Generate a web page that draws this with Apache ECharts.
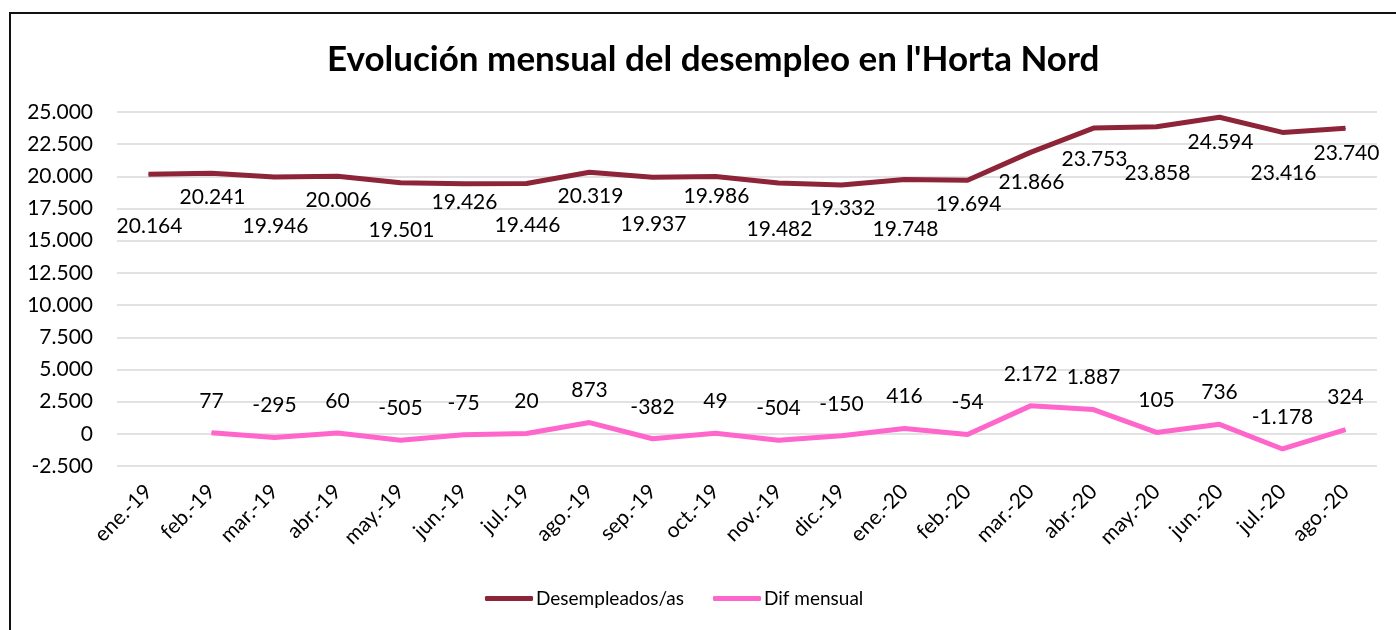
<!DOCTYPE html>
<html>
<head>
<meta charset="utf-8">
<script src="https://cdn.jsdelivr.net/npm/echarts@6/dist/echarts.min.js"></script>
<style>
  html, body { margin: 0; padding: 0; background: #fff; }
  #chart { width: 1396px; height: 630px; }
  #frame { position: absolute; left: 9px; top: 12px; width: 1400px; height: 640px;
           border-left: 2px solid #111; border-top: 2px solid #111; pointer-events: none; }
</style>
</head>
<body>
<div id="chart"></div>
<div id="frame"></div>
<script>
const categories = ['ene.-19', 'feb.-19', 'mar.-19', 'abr.-19', 'may.-19', 'jun.-19', 'jul.-19',
  'ago.-19', 'sep.-19', 'oct.-19', 'nov.-19', 'dic.-19', 'ene.-20', 'feb.-20', 'mar.-20',
  'abr.-20', 'may.-20', 'jun.-20', 'jul.-20', 'ago.-20'];
const desempleados = [20164, 20241, 19946, 20006, 19501, 19426, 19446, 20319, 19937, 19986,
  19482, 19332, 19748, 19694, 21866, 23753, 23858, 24594, 23416, 23740];
const difMensual = [null, 77, -295, 60, -505, -75, 20, 873, -382, 49,
  -504, -150, 416, -54, 2172, 1887, 105, 736, -1178, 324];
const yMin = -2500, yMax = 25000, yStep = 2500;

// vertical shift of each "Desempleados/as" label below its point (px)
const desLabelDy = [52, 24, 49, 24, 47, 18, 42, 24, 47, 20, 46, 23, 50, 24, 30, 31, 47, 25, 41, 25];

const FONT = 'Lato';
const fmt = v => {
  const s = Math.abs(Math.round(v)).toString().replace(/\B(?=(\d{3})+(?!\d))/g, '.');
  return (v < 0 ? '-' : '') + s;
};

let myChart = echarts.init(document.getElementById('chart'));
myChart.setOption({
  animation: false,
  title: {
    text: "Evolución mensual del desempleo en l'Horta Nord",
    left: 322,
    top: 37,
    textStyle: { fontFamily: FONT, fontSize: 35, fontWeight: 'bold', color: '#000' }
  },
  legend: {
    bottom: 17,
    left: 480,
    icon: 'roundRect',
    itemWidth: 48,
    itemHeight: 5,
    itemGap: 29,
    textStyle: { fontFamily: FONT, fontSize: 19, color: '#000', padding: [0, 0, 0, -2] },
    data: ['Desempleados/as', 'Dif mensual']
  },
  grid: { left: 117, right: 19, top: 112, bottom: 164, containLabel: false },
  xAxis: {
    type: 'category',
    data: categories,
    boundaryGap: true,
    axisLine: { show: false },
    axisTick: { show: false },
    axisLabel: { rotate: 45, margin: 22, fontFamily: FONT, fontSize: 21, color: '#000' }
  },
  yAxis: {
    type: 'value',
    min: yMin,
    max: yMax,
    interval: yStep,
    axisLine: { show: false },
    axisTick: { show: false },
    axisLabel: { formatter: fmt, margin: 24, fontFamily: FONT, fontSize: 21, color: '#000' },
    splitLine: { lineStyle: { color: '#d9d9d9', width: 1.5 } }
  },
  series: [
    {
      name: 'Desempleados/as',
      type: 'line',
      symbol: 'circle',
      symbolSize: 1,
      color: '#8e2438',
      lineStyle: { width: 5, color: '#8e2438' },
      label: {
        show: true, position: 'inside', formatter: p => fmt(p.value),
        fontFamily: FONT, fontSize: 21, color: '#000'
      },
      data: desempleados.map((v, i) => ({ value: v, label: { offset: [1, desLabelDy[i]] } }))
    },
    {
      name: 'Dif mensual',
      type: 'line',
      symbol: 'circle',
      symbolSize: 1,
      color: '#ff66cc',
      lineStyle: { width: 5, color: '#ff66cc' },
      label: {
        show: true, position: 'inside', offset: [0, -32], formatter: p => fmt(p.value),
        fontFamily: FONT, fontSize: 21, color: '#000'
      },
      data: difMensual
    }
  ]
});
</script>
</body>
</html>
